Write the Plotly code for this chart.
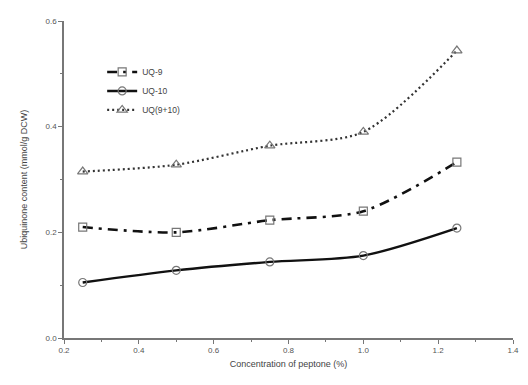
import plotly.graph_objects as go

x_peptone = [0.25, 0.5, 0.75, 1.0, 1.25]
uq9 = [0.210, 0.200, 0.223, 0.240, 0.333]
uq10 = [0.105, 0.128, 0.144, 0.156, 0.208]
uq_sum = [0.315, 0.328, 0.364, 0.390, 0.544]
series_names = ["UQ-9", "UQ-10", "UQ(9+10)"]

fig = go.Figure()
fig.add_trace(go.Scatter(
    x=x_peptone, y=uq9, name=series_names[0], mode="lines+markers",
    line=dict(shape="spline", smoothing=0.8, color="#111", width=2.6, dash="10px,6px,3px,6px"),
    marker=dict(symbol="square-open", size=8, color="#777", line=dict(width=1.2))))
fig.add_trace(go.Scatter(
    x=x_peptone, y=uq10, name=series_names[1], mode="lines+markers",
    line=dict(shape="spline", smoothing=0.8, color="#111", width=2.4),
    marker=dict(symbol="circle-open", size=8, color="#777", line=dict(width=1.2))))
fig.add_trace(go.Scatter(
    x=x_peptone, y=uq_sum, name=series_names[2], mode="lines+markers",
    line=dict(shape="spline", smoothing=0.8, color="#333", width=2.2, dash="2px,3px"),
    marker=dict(symbol="triangle-up-open", size=9, color="#777", line=dict(width=1.2))))

fig.update_layout(
    width=520, height=377,
    margin=dict(l=56, r=9, t=12, b=47),
    paper_bgcolor="white", plot_bgcolor="white",
    font=dict(family="Liberation Sans, Arial, sans-serif", size=8, color="#555"),
    showlegend=True,
    legend=dict(x=0.085, y=0.885, xanchor="left", yanchor="top",
                bgcolor="rgba(0,0,0,0)", font=dict(size=8.5, color="#444"),
                tracegroupgap=0, itemwidth=30),
    xaxis=dict(range=[0.2, 1.4], tickvals=[0.2, 0.4, 0.6, 0.8, 1.0, 1.2, 1.4],
               ticktext=["0.2", "0.4", "0.6", "0.8", "1.0", "1.2", "1.4"],
               showline=True, linecolor="#777", linewidth=1.5,
               ticks="outside", ticklen=4, tickcolor="#777",
               minor=dict(dtick=0.1, ticks="outside", ticklen=2, tickcolor="#777"),
               showgrid=False, zeroline=False,
               title=dict(text="Concentration of peptone (%)", font=dict(size=9, color="#444"), standoff=6)),
    yaxis=dict(range=[0.0, 0.6], tickvals=[0.0, 0.2, 0.4, 0.6],
               ticktext=["0.0", "0.2", "0.4", "0.6"],
               showline=True, linecolor="#777", linewidth=1.5,
               ticks="outside", ticklen=4, tickcolor="#777",
               minor=dict(dtick=0.1, ticks="outside", ticklen=2, tickcolor="#777"),
               showgrid=False, zeroline=False,
               title=dict(text="Ubiquinone content (mmol/g DCW)", font=dict(size=9, color="#444"), standoff=16)),
)
fig.write_html("out.html")
